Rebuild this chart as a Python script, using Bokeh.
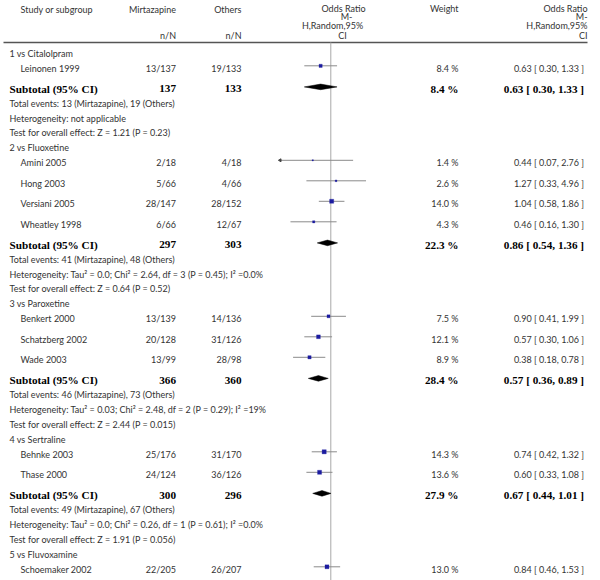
import math
from bokeh.plotting import figure
from bokeh.models import Range1d, LogScale
from bokeh.embed import file_html
from bokeh.resources import INLINE
from bokeh.core.properties import value

# ---------------- data ----------------
groups = ["1 vs Citalolpram", "2 vs Fluoxetine", "3 vs Paroxetine",
          "4 vs Sertraline", "5 vs Fluvoxamine"]
studies = ["Leinonen 1999", "Amini 2005", "Hong 2003", "Versiani 2005",
           "Wheatley 1998", "Benkert 2000", "Schatzberg 2002", "Wade 2003",
           "Behnke 2003", "Thase 2000", "Schoemaker 2002"]
study_group = [0, 1, 1, 1, 1, 2, 2, 2, 3, 3, 4]
mirt_events = [13, 2, 5, 28, 6, 13, 20, 13, 25, 24, 22]
mirt_total = [137, 18, 66, 147, 66, 139, 128, 99, 176, 124, 205]
oth_events = [19, 4, 4, 28, 12, 14, 31, 28, 31, 36, 26]
oth_total = [133, 18, 66, 152, 67, 136, 126, 98, 170, 126, 207]
weights = [8.4, 1.4, 2.6, 14.0, 4.3, 7.5, 12.1, 8.9, 14.3, 13.6, 13.0]
or_est = [0.63, 0.44, 1.27, 1.04, 0.46, 0.90, 0.57, 0.38, 0.74, 0.60, 0.84]
or_lo = [0.30, 0.07, 0.33, 0.58, 0.16, 0.41, 0.30, 0.18, 0.42, 0.33, 0.46]
or_hi = [1.33, 2.76, 4.96, 1.86, 1.30, 1.99, 1.06, 0.78, 1.32, 1.08, 1.53]

sub_mirt_n = [137, 297, 366, 300]
sub_oth_n = [133, 303, 360, 296]
sub_events_m = [13, 41, 46, 49]
sub_events_o = [19, 48, 73, 67]
sub_weight = [8.4, 22.3, 28.4, 27.9]
sub_or = [0.63, 0.86, 0.57, 0.67]
sub_lo = [0.30, 0.54, 0.36, 0.44]
sub_hi = [1.33, 1.36, 0.89, 1.01]
heterogeneity = ["not applicable",
                 "Tau\u00b2 = 0.0; Chi\u00b2 = 2.64, df = 3 (P = 0.45); I\u00b2 =0.0%",
                 "Tau\u00b2 = 0.03; Chi\u00b2 = 2.48, df = 2 (P = 0.29); I\u00b2 =19%",
                 "Tau\u00b2 = 0.0; Chi\u00b2 = 0.26, df = 1 (P = 0.61); I\u00b2 =0.0%"]
z_tests = ["Z = 1.21 (P = 0.23)", "Z = 0.64 (P = 0.52)",
           "Z = 2.44 (P = 0.015)", "Z = 1.91 (P = 0.056)"]
axis_min, axis_max = 0.1, 10.0

# ---------------- layout constants ----------------
W, H = 600, 580
X_ONE = 330.3          # x position of OR = 1
PX_PER_LN = 22.0       # pixels per natural-log unit
X_LEFT_TXT = 9
X_STUDY = 20
X_MIRT = 175.5
X_OTH = 241
X_WEIGHT = 458
X_OR = 583.5
FONT = value("Lato")
SERIF = value("Liberation Serif")
TXT_COL = "#333333"
FS = "9px"
FS_B = "11.2px"

p = figure(width=W, height=H, output_backend="svg", toolbar_location=None,
           x_range=Range1d(0, W), y_range=Range1d(H, 0),
           x_axis_location=None, y_axis_location=None, min_border=0,
           outline_line_color=None)
p.grid.visible = False
p.extra_x_ranges = {"or": Range1d(math.exp((0 - X_ONE) / PX_PER_LN),
                                  math.exp((W - X_ONE) / PX_PER_LN))}
p.extra_x_scales = {"or": LogScale()}


def txt(x, y, s, align="left", font=FONT, size=FS, style="normal", color=TXT_COL):
    p.text(x=[x], y=[y], text=[s], text_align=align, text_baseline="middle",
           text_font=font, text_font_size=size, text_font_style=style,
           text_color=color)


# ---------------- header ----------------
txt(X_STUDY, 8.5, "Study or subgroup")
txt(X_MIRT, 8.5, "Mirtazapine", "right")
txt(X_OTH, 8.5, "Others", "right")
txt(X_MIRT, 35, "n/N", "right")
txt(X_OTH, 35, "n/N", "right")
for s, cx, cy in [("Odds Ratio", 343, 8), ("M-", 346, 16),
                  ("H,Random,95%", 332, 25), ("CI", 342, 35)]:
    txt(cx, cy, s, "center")
txt(X_WEIGHT, 8, "Weight", "right")
for s, cy in [("Odds Ratio", 8), ("M-", 16), ("H,Random,95%", 25), ("CI", 35)]:
    txt(587, cy, s, "right")
p.segment(x0=[3], x1=[587], y0=[42], y1=[42], line_color="#555555", line_width=1.6)
p.segment(x0=[1], x1=[1], y0=[42], y1=[600], x_range_name="or",
          line_color="#a8a8a8", line_width=1)

# ---------------- rows ----------------
LINE = 14.8
STUDY_GAP = 20.5
y = 52.7
study_y = []
for g, gname in enumerate(groups):
    txt(X_LEFT_TXT, y, gname)
    idx = [i for i, sg in enumerate(study_group) if sg == g]
    y += LINE
    for k, i in enumerate(idx):
        if k > 0:
            y += STUDY_GAP
        study_y.append(y)
        txt(X_STUDY, y, studies[i])
        txt(X_MIRT, y, f"{mirt_events[i]}/{mirt_total[i]}", "right")
        txt(X_OTH, y, f"{oth_events[i]}/{oth_total[i]}", "right")
        txt(X_WEIGHT, y, f"{weights[i]:.1f} %", "right")
        txt(X_OR, y, f"{or_est[i]:.2f} [ {or_lo[i]:.2f}, {or_hi[i]:.2f} ]", "right")
    if g < len(sub_or):
        y += STUDY_GAP
        txt(X_LEFT_TXT, y, "Subtotal (95% CI)", font=SERIF, size=FS_B, style="bold", color="black")
        txt(X_MIRT, y, str(sub_mirt_n[g]), "right", SERIF, FS_B, "bold", "black")
        txt(X_OTH, y, str(sub_oth_n[g]), "right", SERIF, FS_B, "bold", "black")
        txt(X_WEIGHT, y, f"{sub_weight[g]:.1f} %", "right", SERIF, FS_B, "bold", "black")
        txt(X_OR, y, f"{sub_or[g]:.2f} [ {sub_lo[g]:.2f}, {sub_hi[g]:.2f} ]",
            "right", SERIF, FS_B, "bold", "black")
        yd = y - 1.6
        p.patch(x=[sub_lo[g], sub_or[g], sub_hi[g], sub_or[g]],
                y=[yd, yd - 2.8, yd, yd + 2.8], x_range_name="or",
                fill_color="black", line_color="black", line_width=0.5)
        y += LINE
        txt(X_LEFT_TXT, y, f"Total events: {sub_events_m[g]} (Mirtazapine), {sub_events_o[g]} (Others)")
        y += LINE
        txt(X_LEFT_TXT, y, "Heterogeneity: " + heterogeneity[g])
        y += LINE
        txt(X_LEFT_TXT, y, "Test for overall effect: " + z_tests[g])
        y += LINE

# ---------------- forest marks ----------------
my = [v - 2.2 for v in study_y]
lo_c = [max(v, axis_min) for v in or_lo]
hi_c = [min(v, axis_max) for v in or_hi]
p.segment(x0=lo_c, x1=hi_c, y0=my, y1=my, x_range_name="or",
          line_color="#8a8a8a", line_width=1)
p.scatter(x=or_est, y=my, x_range_name="or", marker="square",
          size=[1.1 * math.sqrt(w) for w in weights],
          fill_color="#1c1ca0", line_color="#1c1ca0", line_width=0.3)
clip_x = [axis_min for v in or_lo if v < axis_min]
clip_y = [m for v, m in zip(or_lo, my) if v < axis_min]
p.scatter(x=clip_x, y=clip_y, x_range_name="or", marker="triangle",
          angle=math.pi / 2, size=3, fill_color="#444444", line_color="#444444")

open("out.html", "w").write(file_html(p, INLINE))
